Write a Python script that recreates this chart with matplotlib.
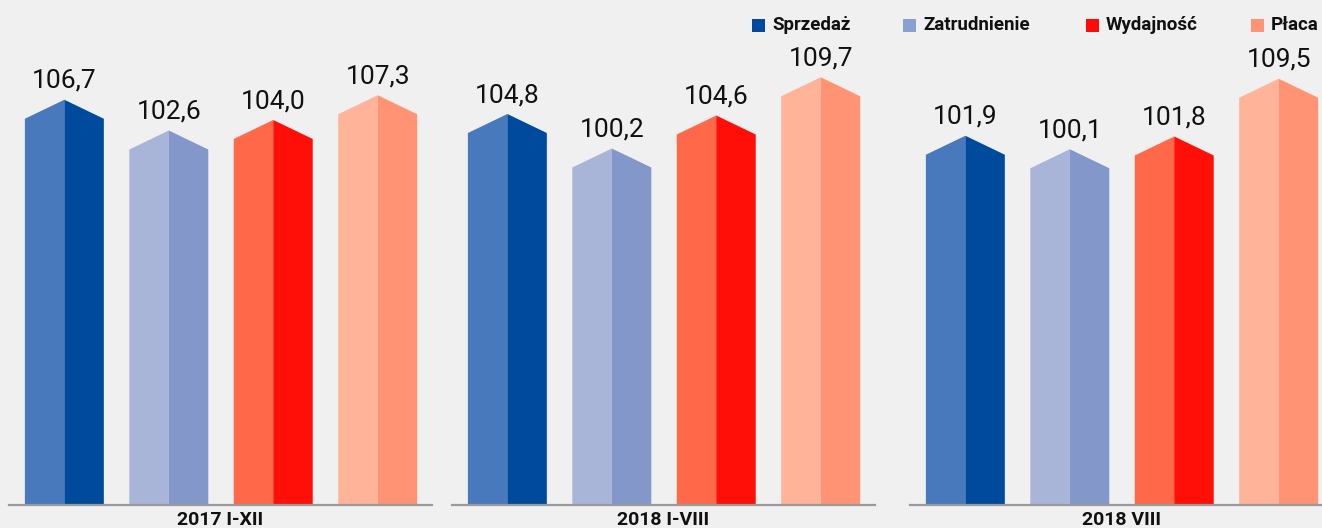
import matplotlib
matplotlib.use('Agg')
import matplotlib.pyplot as plt
from matplotlib.patches import Polygon, Rectangle

periods = ['2017 I-XII', '2018 I-VIII', '2018 VIII']
series = ['Sprzedaż', 'Zatrudnienie', 'Wydajność', 'Płaca']
values = [
    [106.7, 102.6, 104.0, 107.3],
    [104.8, 100.2, 104.6, 109.7],
    [101.9, 100.1, 101.8, 109.5],
]
left_colors = ['#4879bd', '#a9b5d8', '#ff6849', '#ffb399']
right_colors = ['#004a9e', '#8497ca', '#ff0f08', '#ff9373']
legend_colors = ['#004a9e', '#8a9fd2', '#ff0a0a', '#ff9373']

W, H = 1322, 528
bg = '#f0f0f0'
fnt = ['Roboto', 'DejaVu Sans']

fig = plt.figure(figsize=(W / 100, H / 100), dpi=100, facecolor=bg)

ymin = 55.2
px_per_unit = 7.5
base_px = 23          # baseline distance from bottom of the figure
ax_h = H - base_px
ymax = ymin + ax_h / px_per_unit
gable = 19 / px_per_unit
bar_w = 0.756

ax_lefts = [9, 452, 910]
ax_w = 423

for p, (period, vals) in enumerate(zip(periods, values)):
    ax = fig.add_axes([ax_lefts[p] / W, base_px / H, ax_w / W, ax_h / H])
    ax.set_facecolor(bg)
    ax.set_xlim(-0.53, 3.52)
    ax.set_ylim(ymin, ymax)
    for s in ['top', 'right', 'left']:
        ax.spines[s].set_visible(False)
    ax.spines['bottom'].set_color('#9a9a9a')
    ax.spines['bottom'].set_linewidth(1.6)
    ax.set_xticks([])
    ax.set_yticks([])

    for i, v in enumerate(vals):
        x0, x1 = i - bar_w / 2, i + bar_w / 2
        xm = i
        # left half with sloped roof
        ax.add_patch(Polygon([(x0, ymin), (xm, ymin), (xm, v + gable), (x0, v)],
                             closed=True, facecolor=left_colors[i], edgecolor='none'))
        # right half
        ax.add_patch(Polygon([(xm, ymin), (x1, ymin), (x1, v), (xm, v + gable)],
                             closed=True, facecolor=right_colors[i], edgecolor='none'))
        ax.annotate(f'{v:.1f}'.replace('.', ','), (xm, v + gable),
                    xytext=(0, 5), textcoords='offset points',
                    ha='center', va='bottom', fontsize=19, family=fnt,
                    color='#111111')

    ax.text(0.5, -6 / ax_h, period, transform=ax.transAxes, ha='center', va='top',
            fontsize=14, fontweight='bold', family=fnt, color='#111111')

# legend
sq_x = [752, 903, 1086, 1251]
for name, col, x in zip(series, legend_colors, sq_x):
    fig.patches.append(Rectangle((x / W, (H - 32) / H), 13 / W, 13 / H,
                                 transform=fig.transFigure, facecolor=col,
                                 edgecolor='none'))
    fig.text((x + 20) / W, (H - 25.5) / H, name, ha='left', va='center',
             fontsize=13.5, fontweight='bold', family=fnt, color='#111111')

fig.savefig('out.png', dpi=100, facecolor=bg)
